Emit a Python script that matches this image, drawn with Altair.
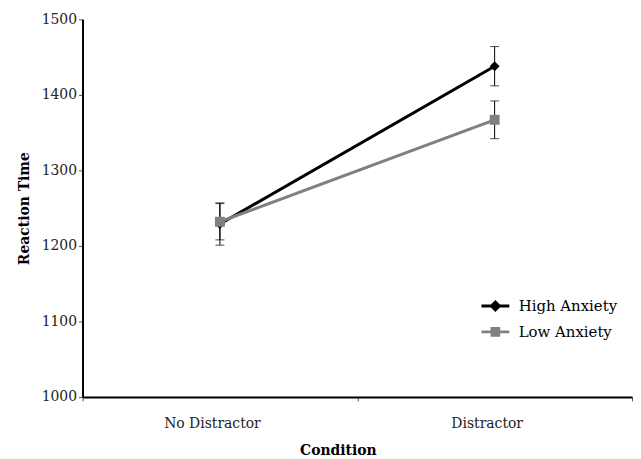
import altair as alt
import pandas as pd

conditions = ["No Distractor", "Distractor"]
groups = ["High Anxiety", "Low Anxiety"]
high_means = [1229, 1438]
high_errs = [28, 26]
low_means = [1232, 1367]
low_errs = [24, 25]
y_ticks = [1000, 1100, 1200, 1300, 1400, 1500]

rows = []
for c, m, e in zip(conditions, high_means, high_errs):
    rows.append({"Condition": c, "Group": groups[0], "RT": m, "lo": m - e, "hi": m + e})
for c, m, e in zip(conditions, low_means, low_errs):
    rows.append({"Condition": c, "Group": groups[1], "RT": m, "lo": m - e, "hi": m + e})
df = pd.DataFrame(rows)

FONT = "DejaVu Serif"
colors = ["#000000", "#808080"]

high_path = "M -1 0 L 1 0 M 0 -0.28 L 0.28 0 L 0 0.28 L -0.28 0 Z"
low_path = "M -1 0 L 1 0 M -0.24 -0.24 L 0.24 -0.24 L 0.24 0.24 L -0.24 0.24 Z"

legend = alt.Legend(
    title=None,
    orient="none",
    legendX=400,
    legendY=273,
    labelFont=FONT,
    labelFontSize=15,
    labelColor="#000000",
    symbolSize=784,
    symbolStrokeWidth=3,
    labelOffset=8,
    rowPadding=-2,
)

x_enc = alt.X(
    "Condition:N",
    sort=conditions,
    scale=alt.Scale(type="band", domain=conditions, paddingInner=0, paddingOuter=0),
    axis=alt.Axis(
        title="Condition",
        labelAngle=0,
        tickBand="extent",
        labelOffset=-8,
        labelFont=FONT,
        labelFontSize=14,
        labelColor="#222222",
        labelPadding=16,
        titleFont=FONT,
        titleFontSize=14,
        titleFontWeight="bold",
        titleColor="#000000",
        titlePadding=13,
        titleX=257,
        domainColor="#000000",
        domainWidth=2,
        tickColor="#555555",
        tickSize=4,
        grid=False,
    ),
)
y_scale = alt.Scale(domain=[1000, 1500], nice=False, zero=False)
y_axis = alt.Axis(
    title="Reaction Time",
    values=y_ticks,
    format="d",
    labelFont=FONT,
    labelFontSize=14,
    labelColor="#222222",
    labelPadding=2,
    titleFont=FONT,
    titleFontSize=14,
    titleFontWeight="bold",
    titleColor="#000000",
    titlePadding=10,
    domainColor="#000000",
    domainWidth=2,
    tickColor="#555555",
    tickSize=4,
    grid=False,
)

color_enc = alt.Color("Group:N", scale=alt.Scale(domain=groups, range=colors), legend=None)

base = alt.Chart(df)

# tiny marks hidden under the real markers; this layer supplies the legend (line + marker symbols)
legend_layer = base.mark_point(filled=True, opacity=1, strokeWidth=1, size=1).encode(
    x=x_enc,
    y=alt.Y("RT:Q", scale=y_scale),
    fill=alt.Fill("Group:N", scale=alt.Scale(domain=groups, range=colors), legend=legend),
    stroke=alt.Stroke("Group:N", scale=alt.Scale(domain=groups, range=colors), legend=legend),
    shape=alt.Shape("Group:N", scale=alt.Scale(domain=groups, range=[high_path, low_path]), legend=legend),
)
lines = base.mark_line(strokeWidth=3).encode(
    x=x_enc, y=alt.Y("RT:Q", scale=y_scale, axis=y_axis), color=color_enc
)
rules = base.mark_rule(color="#000000", strokeWidth=1).encode(
    x=x_enc, y=alt.Y("lo:Q", scale=y_scale), y2="hi:Q"
)
cap_lo = base.mark_tick(color="#000000", thickness=1, size=9).encode(
    x=x_enc, y=alt.Y("lo:Q", scale=y_scale)
)
cap_hi = base.mark_tick(color="#000000", thickness=1, size=9).encode(
    x=x_enc, y=alt.Y("hi:Q", scale=y_scale)
)
pts_high = base.transform_filter(alt.datum.Group == groups[0]).mark_point(
    filled=True, size=100, opacity=1, shape="diamond", color=colors[0]
).encode(x=x_enc, y=alt.Y("RT:Q", scale=y_scale))
pts_low = base.transform_filter(alt.datum.Group == groups[1]).mark_point(
    filled=True, size=100, opacity=1, shape="square", color=colors[1]
).encode(x=x_enc, y=alt.Y("RT:Q", scale=y_scale))

chart = (
    alt.layer(legend_layer, lines, rules, cap_lo, cap_hi, pts_high, pts_low)
    .properties(width=553, height=380, padding={"left": 9, "top": 3, "right": 0, "bottom": 0}, background="#ffffff")
    .configure_view(stroke=None)
)

chart.save("out.html", embed_options={"renderer": "svg", "actions": False})
